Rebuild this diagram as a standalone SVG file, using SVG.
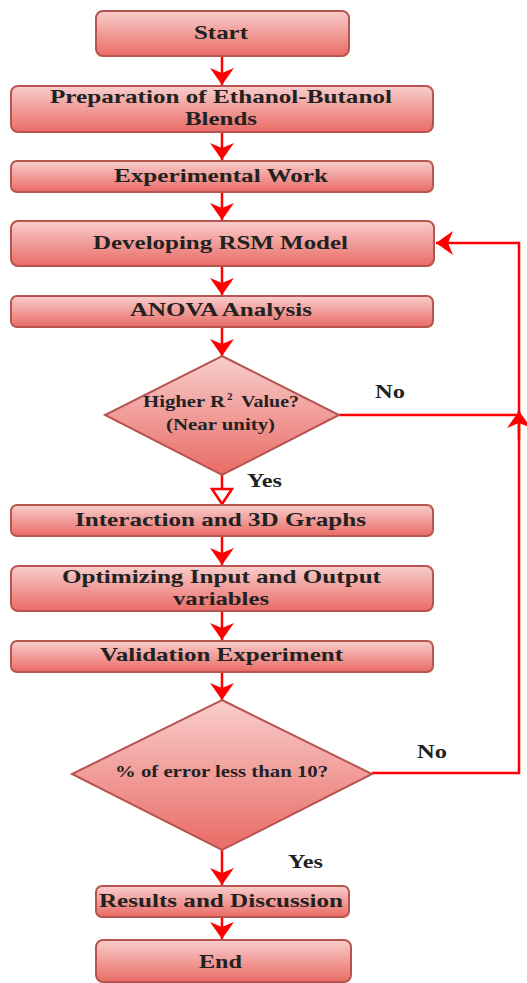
<svg xmlns="http://www.w3.org/2000/svg" width="527" height="983" viewBox="0 0 527 983">
<defs>
<linearGradient id="g" x1="0" y1="0" x2="0" y2="1">
<stop offset="0" stop-color="#f8cecc"/>
<stop offset="1" stop-color="#ea6b66"/>
</linearGradient>
<marker id="arr" markerUnits="userSpaceOnUse" markerWidth="20" markerHeight="26" refX="18" refY="13" orient="auto" viewBox="0 0 20 26">
<path d="M18,13 L1,1 L6,13 L1,25 Z" fill="#ff0000"/>
</marker>
<marker id="hol" markerUnits="userSpaceOnUse" markerWidth="20" markerHeight="24" refX="17" refY="12" orient="auto" viewBox="0 0 20 24">
<path d="M17,12 L2,2 L2,22 Z" fill="#ffffff" stroke="#ff0000" stroke-width="2.5"/>
</marker>
</defs>
<style>
.box{fill:url(#g);stroke:#b85450;stroke-width:2}
.t{font-family:"Liberation Serif","Times New Roman",serif;font-weight:bold;font-size:19.5px;fill:#222}
.s{font-size:16px}
.c{fill:none;stroke:#ff0000;stroke-width:2.5}
</style>
<g id="connectors">
<line class="c" x1="222" y1="56" x2="222" y2="85" marker-end="url(#arr)"/>
<line class="c" x1="222" y1="132" x2="222" y2="160" marker-end="url(#arr)"/>
<line class="c" x1="222" y1="192" x2="222" y2="220" marker-end="url(#arr)"/>
<line class="c" x1="222" y1="266" x2="222" y2="295" marker-end="url(#arr)"/>
<line class="c" x1="222" y1="327" x2="222" y2="356" marker-end="url(#arr)"/>
<line class="c" x1="222" y1="475" x2="222" y2="504" marker-end="url(#hol)"/>
<line class="c" x1="222" y1="536" x2="222" y2="565" marker-end="url(#arr)"/>
<line class="c" x1="222" y1="611" x2="222" y2="640" marker-end="url(#arr)"/>
<line class="c" x1="222" y1="672" x2="222" y2="700" marker-end="url(#arr)"/>
<line class="c" x1="222" y1="850" x2="222" y2="885" marker-end="url(#arr)"/>
<line class="c" x1="222" y1="917" x2="222" y2="939" marker-end="url(#arr)"/>
<polyline class="c" points="339,415 519,415"/>
<polyline class="c" points="372,773 519,773 519,243 436,243" marker-end="url(#arr)"/>
<line class="c" x1="519" y1="440" x2="519" y2="411" marker-end="url(#arr)"/>
</g>
<g id="start"><rect class="box" x="96" y="11" width="253" height="45" rx="7"/><text class="t" x="194" y="39" textLength="54" lengthAdjust="spacingAndGlyphs">Start</text></g>
<g id="prep"><rect class="box" x="11" y="86" width="422" height="46" rx="7"/><text class="t" x="50" y="103" textLength="342" lengthAdjust="spacingAndGlyphs">Preparation of Ethanol-Butanol</text><text class="t" x="185" y="125" textLength="72" lengthAdjust="spacingAndGlyphs">Blends</text></g>
<g id="exp"><rect class="box" x="11" y="161" width="422" height="31" rx="6"/><text class="t" x="114" y="182" textLength="214" lengthAdjust="spacingAndGlyphs">Experimental Work</text></g>
<g id="rsm"><rect class="box" x="11" y="221" width="423" height="45" rx="7"/><text class="t" x="93" y="249" textLength="255" lengthAdjust="spacingAndGlyphs">Developing RSM Model</text></g>
<g id="anova"><rect class="box" x="11" y="296" width="422" height="31" rx="6"/><text class="t" x="130" y="316" textLength="182" lengthAdjust="spacingAndGlyphs">ANOVA Analysis</text></g>
<g id="dec1"><polygon class="box" points="222,356 339,415 222,475 105,415"/><text class="t s" x="143" y="407" textLength="82" lengthAdjust="spacingAndGlyphs">Higher R</text><text class="t" x="227" y="400" style="font-size:11px">2</text><text class="t s" x="241" y="407" textLength="58" lengthAdjust="spacingAndGlyphs">Value?</text><text class="t s" x="166" y="430" textLength="109" lengthAdjust="spacingAndGlyphs">(Near unity)</text></g>
<g id="int"><rect class="box" x="11" y="505" width="422" height="31" rx="6"/><text class="t" x="75" y="526" textLength="291" lengthAdjust="spacingAndGlyphs">Interaction and 3D Graphs</text></g>
<g id="opt"><rect class="box" x="11" y="566" width="422" height="45" rx="7"/><text class="t" x="62" y="583" textLength="319" lengthAdjust="spacingAndGlyphs">Optimizing Input and Output</text><text class="t" x="173" y="605" textLength="96" lengthAdjust="spacingAndGlyphs">variables</text></g>
<g id="val"><rect class="box" x="11" y="641" width="422" height="31" rx="6"/><text class="t" x="100" y="661" textLength="243" lengthAdjust="spacingAndGlyphs">Validation Experiment</text></g>
<g id="dec2"><polygon class="box" points="222,700 372,774 222,850 72,774"/><text class="t s" x="115" y="777" textLength="213" lengthAdjust="spacingAndGlyphs">% of error less than 10?</text></g>
<g id="res"><rect class="box" x="96" y="886" width="253" height="31" rx="6"/><text class="t" x="99" y="907" textLength="244" lengthAdjust="spacingAndGlyphs">Results and Discussion</text></g>
<g id="end"><rect class="box" x="96" y="940" width="255" height="42" rx="7"/><text class="t" x="199" y="968" textLength="43" lengthAdjust="spacingAndGlyphs">End</text></g>
<g id="labels">
<text class="t" x="375" y="398" textLength="30" lengthAdjust="spacingAndGlyphs">No</text>
<text class="t" x="247" y="487" textLength="35" lengthAdjust="spacingAndGlyphs">Yes</text>
<text class="t" x="417" y="758" textLength="30" lengthAdjust="spacingAndGlyphs">No</text>
<text class="t" x="288" y="868" textLength="35" lengthAdjust="spacingAndGlyphs">Yes</text>
</g>
</svg>
